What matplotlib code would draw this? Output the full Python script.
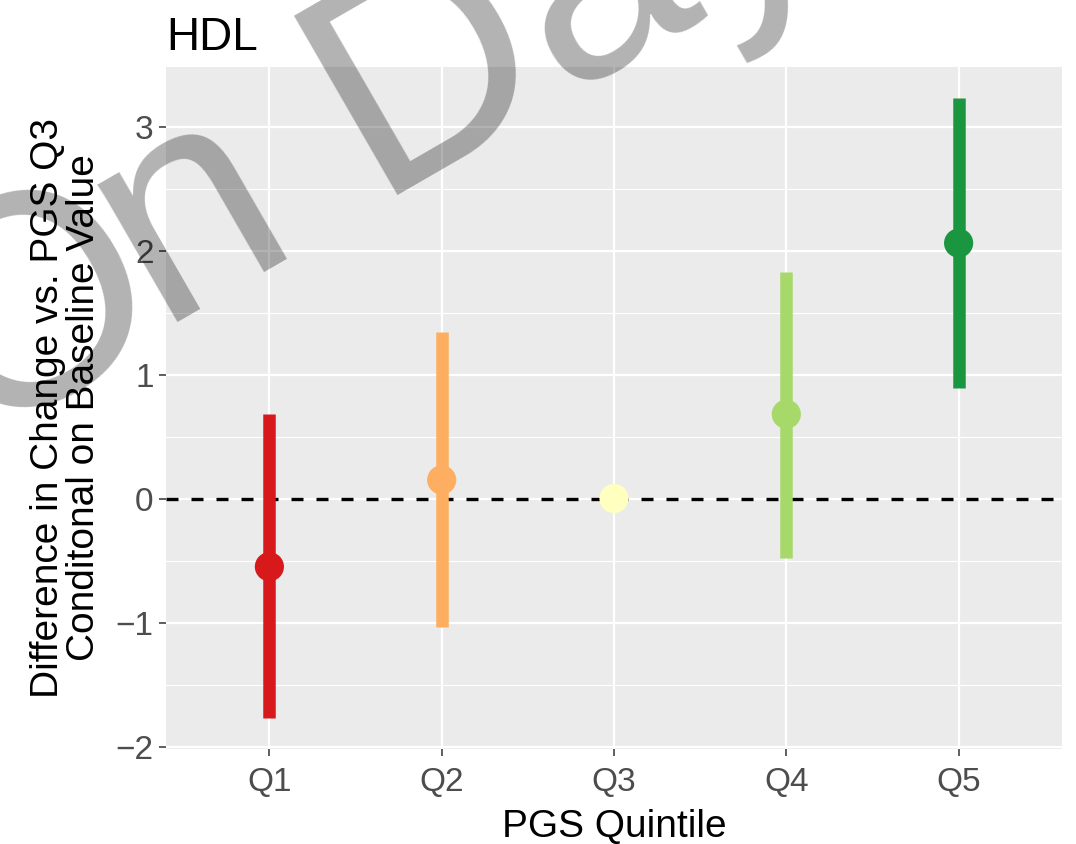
import matplotlib.pyplot as plt
import numpy as np
from matplotlib.ticker import MultipleLocator

plt.rcParams['font.family'] = ['Liberation Sans', 'DejaVu Sans']

# PGS quintile estimates with confidence intervals (Q3 is the reference)
quintiles = ['Q1', 'Q2', 'Q3', 'Q4', 'Q5']
estimate = [-0.55, 0.15, 0.0, 0.68, 2.06]
ci_low = [-1.77, -1.04, 0.0, -0.48, 0.89]
ci_high = [0.68, 1.34, 0.0, 1.83, 3.23]
colors = ['#d7191c', '#fdae61', '#ffffbf', '#a6d96a', '#1a9641']

fig = plt.figure(figsize=(10.76, 8.44), dpi=100)
ax = fig.add_axes([166 / 1076, 1 - 749 / 844, 896 / 1076, 682 / 844])

x = np.arange(1, len(quintiles) + 1)

# reference line at zero
ax.axhline(0, color='black', lw=2.4, dashes=(3.6, 3.9), zorder=2)

# intervals and point estimates
ax.vlines(x, ci_low, ci_high, colors=colors, lw=9, capstyle='butt', zorder=3)
ax.scatter(x, estimate, s=21 ** 2, c=colors, linewidths=0, zorder=4)

ax.set_xlim(0.4, len(quintiles) + 0.6)
lo, hi = min(ci_low), max(ci_high)
pad = 0.05 * (hi - lo)
ax.set_ylim(lo - pad, hi + pad)

ax.set_xticks(x)
ax.set_xticklabels(quintiles)
ax.yaxis.set_major_locator(MultipleLocator(1))
ax.yaxis.set_minor_locator(MultipleLocator(0.5))

# ggplot-like grey panel
ax.set_facecolor('#EBEBEB')
ax.set_axisbelow(True)
for s in ax.spines.values():
    s.set_visible(False)
ax.grid(which='major', color='white', lw=1.6)
ax.grid(which='minor', axis='y', color='white', lw=0.8)
ax.tick_params(which='major', length=5, width=1.1, color='#333333',
               labelsize=24, labelcolor='#4D4D4D', pad=4)
ax.tick_params(axis='x', which='major', pad=8)
ax.tick_params(which='minor', length=0)

ax.set_title('HDL', loc='left', fontsize=33, pad=12)
ax.set_xlabel('PGS Quintile', fontsize=28, labelpad=8)
ax.set_ylabel('Difference in Change vs. PGS Q3\nConditonal on Baseline Value',
              fontsize=28, linespacing=1.0, labelpad=10)

# watermark across the upper left
wm = dict(fontsize=216, rotation=30, rotation_mode='anchor', ha='left',
          va='baseline', color='black', alpha=0.3, zorder=10)
fig.text(-25 / 1076, 1 - 439 / 844, 'O', **wm)
fig.text(160 / 1076, 1 - 332 / 844, 'n Day', **wm)

fig.savefig('out.png', dpi=100)
